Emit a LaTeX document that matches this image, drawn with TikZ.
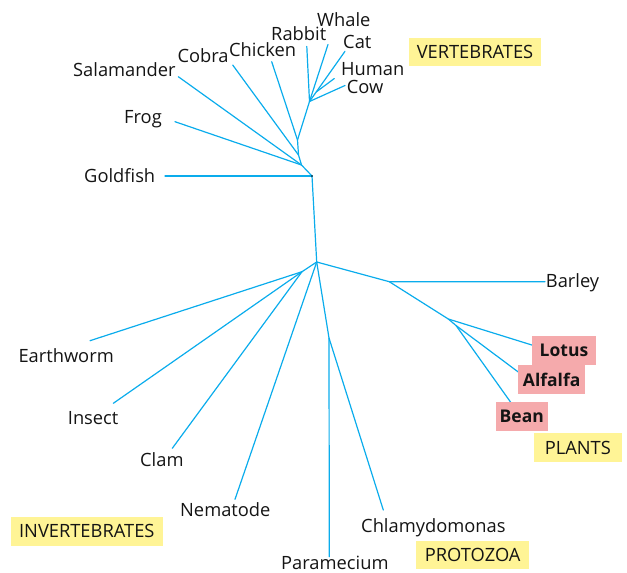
\documentclass[tikz,border=0pt]{standalone}
\usepackage{fontspec}
\setmainfont{Open Sans}
\definecolor{branch}{RGB}{10,172,236}
\definecolor{vyellow}{RGB}{255,244,150}
\definecolor{vpink}{RGB}{245,170,172}
\definecolor{ink}{RGB}{20,20,20}
\begin{document}
\begin{tikzpicture}[x=1pt,y=-1pt,
 br/.style={draw=branch,line width=1.2pt,line cap=round,line join=round},
 lab/.style={inner sep=0pt,anchor=base west,font=\fontsize{18.3}{20}\selectfont,text=ink},
 group/.style={fill=vyellow,inner sep=0pt,font=\fontsize{18.3}{20}\selectfont,text=ink},
 hl/.style={fill=vpink,inner sep=0pt,font=\bfseries\fontsize{17.5}{20}\selectfont,text=ink}]
\useasboundingbox (0,0) rectangle (627,573);
% junctions
\coordinate (R) at (312,176);
\coordinate (C2) at (301.5,165);
\coordinate (C3) at (298.5,155);
\coordinate (C1) at (297.5,140);
\coordinate (M) at (309.5,101.5);
\coordinate (M2) at (316.2,92);
\coordinate (O) at (316.7,262);
\coordinate (J1) at (302,271.7);
\coordinate (P) at (329,338);
\coordinate (Q) at (389.3,281.7);
\coordinate (L) at (448.3,319);
\coordinate (L2) at (456,325.5);
% leaf ends
\coordinate (whaleE) at (328,44.5);
\coordinate (rabbitE) at (306.8,46.5);
\coordinate (catE) at (345,51.3);
\coordinate (humanE) at (334.3,78.5);
\coordinate (cowE) at (345,85.5);
\coordinate (chickenE) at (271.7,61.7);
\coordinate (cobraE) at (232.7,65);
\coordinate (salE) at (178.3,76.7);
\coordinate (frogE) at (175,121.7);
\coordinate (goldE) at (165,176);
\coordinate (earthE) at (90,340.7);
\coordinate (insectE) at (113.3,403.3);
\coordinate (clamE) at (172.3,448.3);
\coordinate (nemE) at (235,499.3);
\coordinate (paraE) at (329.3,556.7);
\coordinate (chlamE) at (383.3,510);
\coordinate (barleyE) at (545,281.7);
\coordinate (lotusE) at (537.3,346.7);
\coordinate (alfE) at (520,373.3);
\coordinate (beanE) at (510.7,402.3);
% branches
\draw[br] (O) -- (R) -- (C2) -- (C3) -- (C1) -- (M);
\draw[br] (M) -- (rabbitE);
\draw[br] (M) -- (whaleE);
\draw[br] (M) -- (catE);
\draw[br] (M2) -- (humanE);
\draw[br] (M) -- (cowE);
\draw[br] (C1) -- (chickenE);
\draw[br] (C3) -- (cobraE);
\draw[br] (C2) -- (salE);
\draw[br] (C2) -- (frogE);
\draw[br] (R) -- (goldE);
\draw[br] (O) -- (J1);
\draw[br] (J1) -- (earthE);
\draw[br] (J1) -- (insectE);
\draw[br] (J1) -- (clamE);
\draw[br] (O) -- (nemE);
\draw[br] (O) -- (P) -- (paraE);
\draw[br] (P) -- (chlamE);
\draw[br] (O) -- (Q) -- (barleyE);
\draw[br] (Q) -- (L) -- (lotusE);
\draw[br] (L) -- (L2) -- (alfE);
\draw[br] (L2) -- (beanE);
\fill[black] (R) circle (0.8pt);
% labels
\node[lab] (whale) at (317,26) {Whale};
\node[lab] (rabbit) at (271,40.7) {Rabbit};
\node[lab] (cat) at (343,48.3) {Cat};
\node[lab] (chicken) at (229,56) {Chicken};
\node[lab] (cobra) at (177.3,62.7) {Cobra};
\node[lab] (human) at (341,75) {Human};
\node[lab] (cow) at (346.7,93.5) {Cow};
\node[lab] (salamander) at (73,76.2) {Salamander};
\node[lab] (frog) at (124,123) {Frog};
\node[lab] (goldfish) at (84,182.5) {Goldfish};
\node[lab] (earthworm) at (18.3,362) {Earthworm};
\node[lab] (insect) at (67.7,424) {Insect};
\node[lab] (clam) at (140,466.7) {Clam};
\node[lab] (nematode) at (180,516) {Nematode};
\node[lab] (paramecium) at (281,569) {Paramecium};
\node[lab] (chlamy) at (361,532.7) {Chlamydomonas};
\node[lab] (barley) at (545.7,287.3) {Barley};
% highlighted
\node[hl,minimum width=63.4pt,minimum height=29pt] (lotus) at (564,350.5) {Lotus};
\node[hl,minimum width=66.7pt,minimum height=29pt] (alfalfa) at (551.7,379.5) {Alfalfa};
\node[hl,minimum width=51.7pt,minimum height=28.7pt] (bean) at (521.8,416.7) {Bean};
% groups
\node[group,minimum width=132pt,minimum height=28pt] (vert) at (475,52) {VERTEBRATES};
\node[group,minimum width=87.7pt,minimum height=28.4pt] (plants) at (577.8,447.5) {PLANTS};
\node[group,minimum width=151.7pt,minimum height=29pt] (invert) at (86.8,531.2) {INVERTEBRATES};
\node[group,minimum width=113.3pt,minimum height=28.3pt] (protozoa) at (472.7,555.2) {PROTOZOA};
\end{tikzpicture}
\end{document}
